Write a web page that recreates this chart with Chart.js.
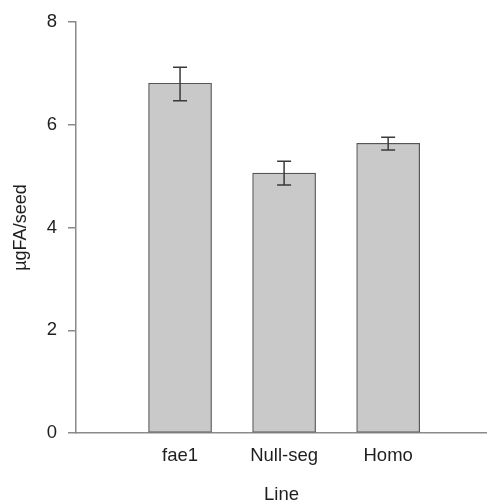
<!DOCTYPE html>
<html>
<head>
<meta charset="utf-8">
<script src="https://cdn.jsdelivr.net/npm/chart.js@4"></script>
<style>
  html, body { margin: 0; padding: 0; background: #fff; }
  #wrap { width: 487px; height: 501px; }
</style>
</head>
<body>
<div id="wrap"><canvas id="c"></canvas></div>
<script>
const categories = ['fae1', 'Null-seg', 'Homo'];
const means = [6.81, 5.06, 5.64];
const errUpper = [7.12, 5.29, 5.76];
const errLower = [6.47, 4.83, 5.51];
const yTicks = [0, 2, 4, 6, 8];
const xTitle = 'Line';
const yTitle = 'µgFA/seed';

const textColor = '#1e1e1e';
const axisColor = '#8a8a8a';
const font = { family: 'Liberation Sans, Arial, sans-serif', size: 18.5 };
const yTitleFont = { family: 'Liberation Sans, Arial, sans-serif', size: 18 };

const errorBars = {
  id: 'errorBars',
  afterDatasetsDraw(chart) {
    const { ctx, scales: { x, y } } = chart;
    const cap = 7;
    ctx.save();
    ctx.strokeStyle = '#3a3a3a';
    ctx.lineWidth = 1.5;
    categories.forEach((c, i) => {
      const px = x.getPixelForValue(i + 1);
      const top = y.getPixelForValue(errUpper[i]);
      const bot = y.getPixelForValue(errLower[i]);
      ctx.beginPath();
      ctx.moveTo(px, top); ctx.lineTo(px, bot);
      ctx.moveTo(px - cap, top); ctx.lineTo(px + cap, top);
      ctx.moveTo(px - cap, bot); ctx.lineTo(px + cap, bot);
      ctx.stroke();
    });
    ctx.restore();
  }
};

new Chart(document.getElementById('c'), {
  type: 'bar',
  data: {
    datasets: [{
      data: categories.map((c, i) => ({ x: i + 1, y: means[i] })),
      backgroundColor: '#c9c9c9',
      borderColor: '#555555',
      borderWidth: 1.2,
      barThickness: 63,
      borderSkipped: false
    }]
  },
  options: {
    responsive: true,
    maintainAspectRatio: false,
    animation: false,
    events: [],
    layout: { padding: { left: 6, top: 18, right: 0, bottom: 0 } },
    plugins: { legend: { display: false }, tooltip: { enabled: false } },
    scales: {
      x: {
        type: 'linear',
        offset: false,
        bounds: 'data',
        min: 0,
        max: 3.95,
        afterBuildTicks: s => { s.ticks = categories.map((c, i) => ({ value: i + 1 })); },
        afterFit: s => { s.height = 68; },
        ticks: {
          autoSkip: false,
          maxRotation: 0,
          padding: 12,
          color: textColor,
          font: font,
          callback: v => categories[v - 1]
        },
        grid: { drawOnChartArea: false, drawTicks: false, offset: false },
        border: { display: true, color: axisColor, width: 1.5 },
        title: { display: true, text: xTitle, color: textColor, font: font, padding: { top: 0, bottom: -5 } }
      },
      y: {
        min: 0,
        max: 8,
        afterBuildTicks: s => { s.ticks = yTicks.map(v => ({ value: v })); },
        afterFit: s => { s.width = 70; },
        ticks: { padding: 11, color: textColor, font: font },
        grid: { drawOnChartArea: false, drawTicks: true, tickLength: 8, color: axisColor, lineWidth: 1.5 },
        border: { display: true, color: axisColor, width: 1.5 },
        title: { display: true, text: yTitle, color: textColor, font: yTitleFont, padding: { top: 4, bottom: 4 } }
      }
    }
  },
  plugins: [errorBars]
});
</script>
</body>
</html>
